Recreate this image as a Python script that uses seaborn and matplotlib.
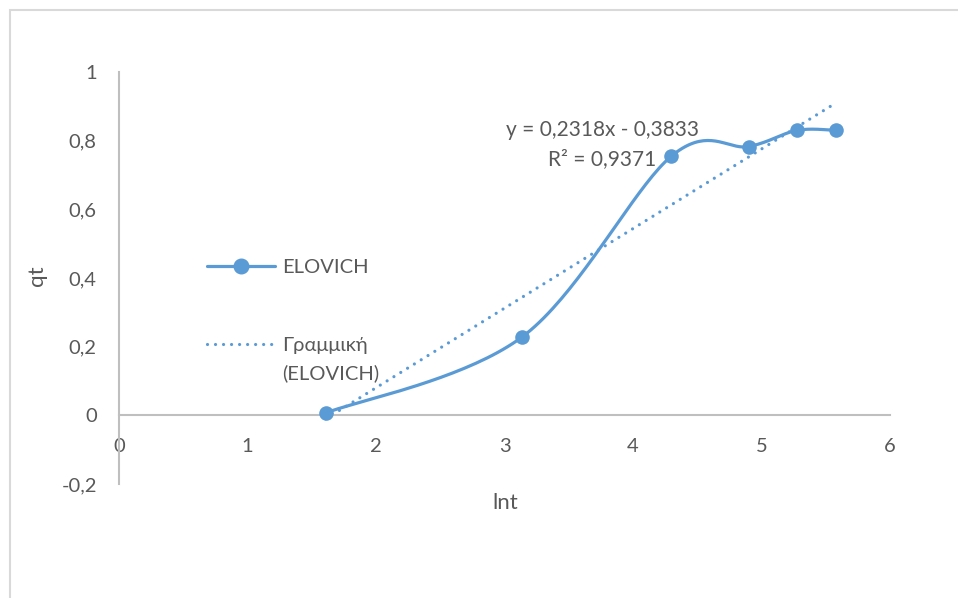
import numpy as np
import pandas as pd
import matplotlib
matplotlib.use("Agg")
import matplotlib.pyplot as plt
from matplotlib.lines import Line2D
from matplotlib.patches import Rectangle
import seaborn as sns

# ELOVICH kinetics: ln(t) against qt
lnt = [1.609, 3.136, 4.296, 4.903, 5.276, 5.580]
qt = [0.007, 0.228, 0.754, 0.783, 0.830, 0.830]

# Linear trendline reported for the series
slope = 0.2318
intercept = -0.3833
r2 = 0.9371

y_ticks = [-0.2, 0.0, 0.2, 0.4, 0.6, 0.8, 1.0]
y_tick_labels = ["-0,2", "0", "0,2", "0,4", "0,6", "0,8", "1"]
x_ticks = [0, 1, 2, 3, 4, 5, 6]
x_tick_labels = ["0", "1", "2", "3", "4", "5", "6"]

series_label = "ELOVICH"
trend_label = "Γραμμική"
trend_label_2 = "(ELOVICH)"

BLUE = "#5B9BD5"
TEXT = "#595959"
AXIS = "#BFBFBF"
FS = 14.5
W, H = 958, 598


def smooth_curve(xs, ys, n=40):
    """Cubic Bezier smoothing through every point (Catmull-Rom tangents)."""
    p = np.column_stack([xs, ys]).astype(float)
    ext = np.vstack([p[0], p, p[-1]])
    t = np.linspace(0, 1, n)[:, None]
    out = []
    for i in range(len(p) - 1):
        p0, p3 = ext[i + 1], ext[i + 2]
        c1 = p0 + (ext[i + 2] - ext[i]) / 6.0
        c2 = p3 - (ext[i + 3] - ext[i + 1]) / 6.0
        seg = ((1 - t) ** 3) * p0 + 3 * ((1 - t) ** 2) * t * c1 \
            + 3 * (1 - t) * t ** 2 * c2 + t ** 3 * p3
        out.append(seg if i == 0 else seg[1:])
    seg = np.vstack(out)
    return seg[:, 0], seg[:, 1]


sns.set_theme(style="white")
plt.rcParams["font.family"] = ["Lato", "DejaVu Sans"]

fig = plt.figure(figsize=(W / 100, H / 100), dpi=100)
ax = fig.add_axes([119 / W, 1 - 484 / H, 771 / W, 412 / H])

# outer chart frame
fig.patches.append(Rectangle((10 / W, -0.05), 1.2, 1 - 10 / H + 0.05,
                             transform=fig.transFigure, fill=False,
                             edgecolor="#D9D9D9", linewidth=1.5, zorder=0))

sx, sy = smooth_curve(lnt, qt)
curve = pd.DataFrame({"lnt": sx, "qt": sy})
points = pd.DataFrame({"lnt": lnt, "qt": qt})

sns.lineplot(data=curve, x="lnt", y="qt", sort=False, color=BLUE,
             linewidth=2.3, ax=ax, zorder=3)
sns.scatterplot(data=points, x="lnt", y="qt", color=BLUE, s=110,
                edgecolor=BLUE, linewidth=0, ax=ax, zorder=4)

trend_x = np.array([min(lnt), max(lnt)])
trend = pd.DataFrame({"lnt": trend_x, "qt": slope * trend_x + intercept})
sns.lineplot(data=trend, x="lnt", y="qt", color=BLUE, linewidth=2.3,
             ax=ax, zorder=2, dashes=False)
tl = ax.lines[-1]
tl.set_dashes((0.01, 2.5))
tl.set_dash_capstyle("round")

ax.set_xlim(0, 6)
ax.set_ylim(-0.2, 1.0)
ax.set_xticks(x_ticks)
ax.set_xticklabels(x_tick_labels)
ax.set_yticks(y_ticks)
ax.set_yticklabels(y_tick_labels)

for side in ("top", "right"):
    ax.spines[side].set_visible(False)
ax.spines["bottom"].set_position(("data", 0))
for side in ("left", "bottom"):
    ax.spines[side].set_color(AXIS)
    ax.spines[side].set_linewidth(1.5)
ax.tick_params(axis="both", length=0, labelsize=FS, labelcolor=TEXT)
ax.tick_params(axis="x", pad=16)
ax.tick_params(axis="y", pad=16)
ax.grid(False)
ax.set_facecolor("none")

ax.set_xlabel("lnt", fontsize=FS + 1.5, color=TEXT)
ax.set_ylabel("qt", fontsize=FS + 1.5, color=TEXT)
ax.xaxis.set_label_coords((505 - 119) / 771, (484 - 493) / 412)
ax.yaxis.set_label_coords((47 - 119) / 771, (484 - 276) / 412)

eq = f"y = {slope:.4f}x - {abs(intercept):.4f}".replace(".", ",")
r2txt = f"R² = {r2:.4f}".replace(".", ",")
ax.text(3.76, 0.788, eq + "\n" + r2txt, ha="center", va="center",
        multialignment="center", fontsize=FS + 0.5, color=TEXT,
        linespacing=1.55, zorder=5)

handles = [
    Line2D([], [], color=BLUE, linewidth=2.3, marker="o", markersize=10.5),
    Line2D([], [], color=BLUE, linewidth=2.3, dashes=(0.01, 2.5),
           dash_capstyle="round"),
]
leg = ax.legend(handles, [series_label, trend_label], loc="upper left",
                bbox_to_anchor=((207 - 119) / 771, (484 - 259) / 412),
                frameon=False, fontsize=FS, labelcolor=TEXT,
                handlelength=3.4, handletextpad=0.35, labelspacing=3.0,
                borderpad=0, borderaxespad=0)

# second line of the trendline entry, set under its first line
fig.canvas.draw()
bb = leg.get_texts()[1].get_window_extent()
fig.text(bb.x0 / W, (bb.y0 - 29) / H, trend_label_2, ha="left",
         va="bottom", fontsize=FS, color=TEXT)

fig.savefig("out.png", dpi=100, facecolor="white")
